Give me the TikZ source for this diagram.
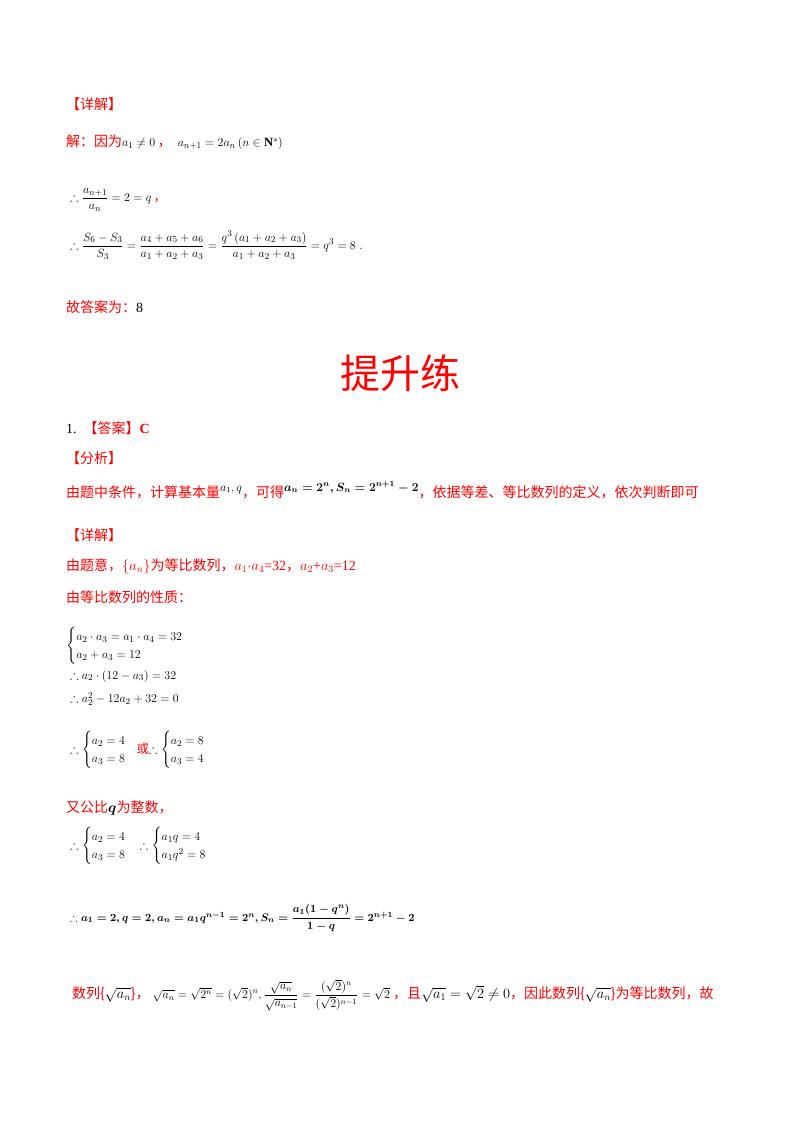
\documentclass[tikz,border=0pt]{standalone}
\usepackage{amsmath,amssymb}
\usepackage{fontspec}
\setmainfont{Liberation Serif}
\newfontfamily\cjk{Noto Sans CJK SC}
\definecolor{rd}{RGB}{255,0,0}
\begin{document}
\begin{tikzpicture}[x=1pt,y=-1pt,
  tx/.style={anchor=west,inner sep=0pt,font=\fontsize{12.5}{15}\selectfont},
  red/.style={anchor=west,inner sep=0pt,font=\fontsize{14}{16}\selectfont,text=rd}]
\useasboundingbox (0,0) rectangle (800,1132);
\fill[white] (0,0) rectangle (800,1132);
\node[red] (h1) at (66,104) {\cjk 【详解】};
\node[red] (l1) at (66,142) {\cjk 解：因为\textcolor{black}{\fontsize{12.5}{15}\selectfont$a_1\ne0$}\,，\ \ \textcolor{black}{\fontsize{12.5}{15}\selectfont$a_{n+1}=2a_n\left(n\in\mathbf N^*\right)$}};
\node[tx] (l2) at (70,200) {$\therefore\dfrac{a_{n+1}}{a_n}=2=q$\,\textcolor{rd}{\cjk ，}};
\node[tx] (l3) at (70,245) {$\therefore\dfrac{S_6-S_3}{S_3}=\dfrac{a_4+a_5+a_6}{a_1+a_2+a_3}=\dfrac{q^3\left(a_1+a_2+a_3\right)}{a_1+a_2+a_3}=q^3=8$\;\textcolor{rd}{.}};
\node[red] (l4) at (66,307) {\cjk 故答案为：\textcolor{black}{\rmfamily 8}};
\node[text=rd,inner sep=0pt,font=\fontsize{40}{44}\selectfont\cjk] (t) at (400,373) {提升练};
\node[red] (q1) at (66,428) {\textcolor{black}{\rmfamily 1.}\ \ {\cjk 【答案】}{\rmfamily\bfseries C}};
\node[red] (fx) at (66,458) {\cjk 【分析】};
\node[red] (l5) at (66,490) {\cjk 由题中条件，计算基本量\raisebox{6pt}{\textcolor{black}{\fontsize{12}{14}\selectfont$a_1,q$}}，可得\raisebox{6pt}{\textcolor{black}{\fontsize{12}{14}\selectfont$\boldsymbol{a_n=2^n,S_n=2^{n+1}-2}$}}，依据等差、等比数列的定义，依次判断即可};
\node[red] (h2) at (66,535) {\cjk 【详解】};
\node[red] (l6) at (66,566) {\cjk 由题意，{\rmfamily$\{a_n\}$}为等比数列，{\rmfamily$a_1{\cdot}a_4$=32}，{\rmfamily$a_2$+$a_3$=12}};
\node[red] (l7) at (66,597) {\cjk 由等比数列的性质：};
\node[tx] (c1) at (66,646) {$\begin{cases}a_2\cdot a_3=a_1\cdot a_4=32\\ a_2+a_3=12\end{cases}$};
\node[tx] (c2) at (70,676) {$\therefore a_2\cdot(12-a_3)=32$};
\node[tx] (c3) at (70,699) {$\therefore a_2^2-12a_2+32=0$};
\node[tx] (c4) at (70,750) {$\therefore\begin{cases}a_2=4\\ a_3=8\end{cases}$\hspace{-2pt}\textcolor{rd}{\cjk 或}$\therefore\begin{cases}a_2=8\\ a_3=4\end{cases}$};
\node[red] (l8) at (66,808) {\cjk 又公比\textcolor{black}{\rmfamily$\boldsymbol{q}$}为整数，};
\node[tx] (c5) at (70,846) {$\therefore\begin{cases}a_2=4\\ a_3=8\end{cases}\!\therefore\begin{cases}a_1q=4\\ a_1q^2=8\end{cases}$};
\node[tx,font=\fontsize{11}{13}\selectfont] (c6) at (70,918) {$\boldsymbol{\therefore a_1=2,q=2,a_n=a_1q^{n-1}=2^n,S_n=\dfrac{a_1(1-q^n)}{1-q}=2^{n+1}-2}$};
\node[red] (l9) at (72,995) {\cjk 数列\{\textcolor{black}{\rmfamily$\sqrt{a_n}$}\}，\ \textcolor{black}{\rmfamily\fontsize{12}{14}\selectfont$\sqrt{a_n}=\sqrt{2^n}=(\sqrt2)^n,\dfrac{\sqrt{a_n}}{\sqrt{a_{n-1}}}=\dfrac{(\sqrt2)^n}{(\sqrt2)^{n-1}}=\sqrt2$}\ ，且\textcolor{black}{\rmfamily$\sqrt{a_1}=\sqrt2\ne0$}，因此数列\{\textcolor{black}{\rmfamily$\sqrt{a_n}$}\}为等比数列，故};
\end{tikzpicture}
\end{document}
